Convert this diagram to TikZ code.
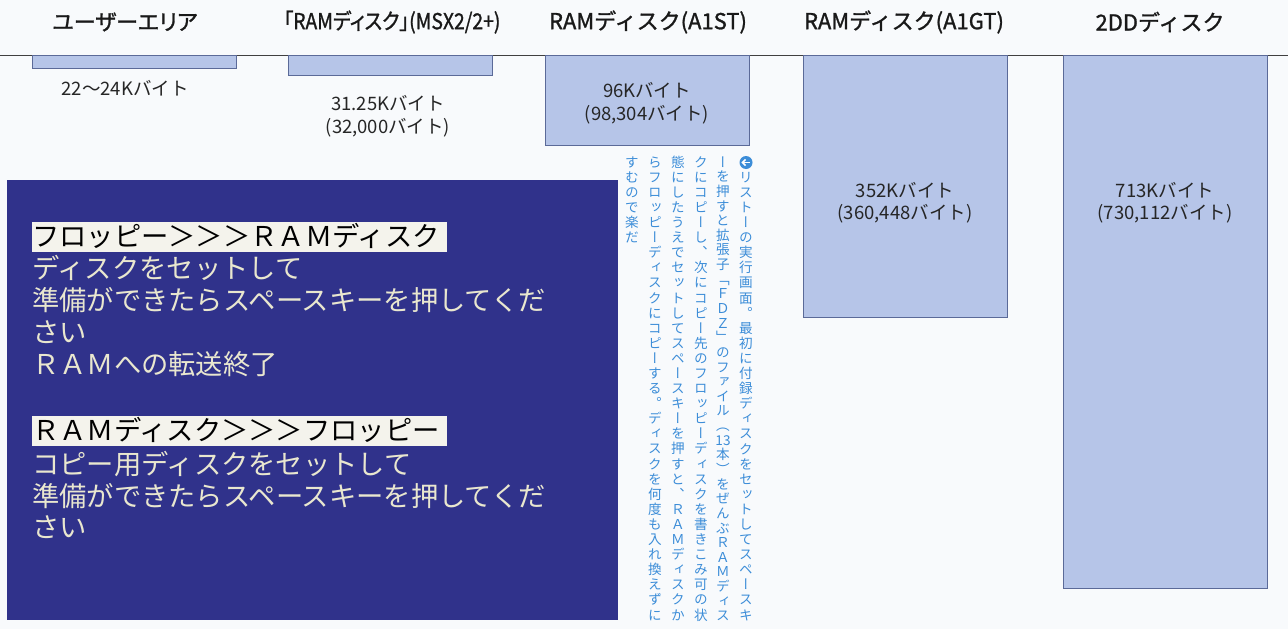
\documentclass[tikz,border=0pt]{standalone}
\usepackage{fontspec}
\usepackage{graphicx}
\newfontfamily\hdfont[FakeBold=1.2]{Noto Sans CJK JP}
\newfontfamily\hdpfont[FakeBold=1.2,RawFeature=+palt]{Noto Sans CJK JP}
\newfontfamily\scrfont{Noto Sans CJK JP}
\newfontfamily\tatefont[RawFeature=+vert]{Noto Sans CJK JP}
\usetikzlibrary{positioning}

\definecolor{paper}{HTML}{F8FAFC}
\definecolor{barfill}{HTML}{B6C5E8}
\definecolor{bardraw}{HTML}{5B6A98}
\definecolor{screenblue}{HTML}{30328B}
\definecolor{screentext}{HTML}{E9E7CF}
\definecolor{hlwhite}{HTML}{F4F3EC}
\definecolor{capblue}{HTML}{3C8DD8}

% vertical column, one glyph per cell
\def\tatestop{\tatestop}
\def\tatestopm{\tatestop}
\newcommand\tatecell[1]{\vbox to 1em{\hbox to 1em{\hss\vrule height .88em depth .12em width 0pt #1\hss}\vss}\kern\tategap}
\def\tatestep#1{%
  \def\tatearg{#1}%
  \ifx\tatearg\tatestopm
    \let\tatenext\relax
  \else
    \tatecell{#1}%
    \let\tatenext\tatestep
  \fi
  \tatenext}
\newcommand\tate[2][.11em]{\vbox{\offinterlineskip\def\tategap{#1}\tatestep#2\tatestop}}

\begin{document}
\begin{tikzpicture}[x=1pt, y=-1pt,
  header/.style={font=\hdfont\fontsize{22}{26}\selectfont, text=black!90, inner sep=0pt},
  pheader/.style={header, font=\hdpfont\fontsize{22}{26}\selectfont},
  bar/.style={draw=bardraw, fill=barfill, line width=1pt, inner sep=0pt, minimum width=204pt, anchor=north west},
  sizelbl/.style={font=\scrfont\fontsize{18.5}{22}\selectfont, text=black!85, inner sep=0pt},
  scrline/.style={font=\scrfont\fontsize{27.3}{32}\selectfont, text=screentext, anchor=west, inner sep=0pt, text height=24pt, text depth=3.3pt},
  hlline/.style={scrline, text=black, fill=hlwhite, text width=415pt, align=left, text height=24.5pt, text depth=5.5pt},
  caption/.style={font=\tatefont\fontsize{13.6}{15}\selectfont, text=capblue, inner sep=0pt, anchor=north}]

  \fill[paper] (0,0) rectangle (1288,629);
  \useasboundingbox (0,0) rectangle (1288,629);

  % rule under the headers
  \coordinate (ruleL) at (0,55);
  \coordinate (ruleR) at (1288,55);
  \draw[line width=1pt, black!75] (ruleL) -- (ruleR);

  % bars
  \node[bar, minimum height=13pt] (barUser) at (32,55) {};
  \node[bar, minimum height=20pt] (barMSX) at (288,55) {};
  \node[bar, minimum height=90pt] (barST) at (545,55) {};
  \node[bar, minimum height=262pt] (barGT) at (803,55) {};
  \node[bar, minimum height=533pt] (barDD) at (1063,55) {};

  % headers
  \node[pheader] (hUser) at (125,22) {ユーザーエリア};
  \node[pheader] (hMSX) at (392,22) {\scalebox{.88}[1]{「RAMディスク」(MSX2/2+)}};
  \node[header] (hST) at (648,22) {RAMディスク(A1ST)};
  \node[header] (hGT) at (904,22) {RAMディスク(A1GT)};
  \node[header] (hDD) at (1160,22) {2DDディスク};

  % sizes
  \node[sizelbl] (sUser) at (125,88) {22〜24Kバイト};
  \node[sizelbl] (sMSX) at (388,103) {31.25Kバイト};
  \node[sizelbl] (sMSXb) at (388,128) {(32,000バイト)};
  \node[sizelbl] (sST) at (647,90) {96Kバイト};
  \node[sizelbl] (sSTb) at (647,115) {(98,304バイト)};
  \node[sizelbl] (sGT) at (905,190) {352Kバイト};
  \node[sizelbl] (sGTb) at (905,214) {(360,448バイト)};
  \node[sizelbl] (sDD) at (1165,190) {713Kバイト};
  \node[sizelbl] (sDDb) at (1165,214) {(730,112バイト)};

  % screen shot
  \fill[screenblue] (7,180) rectangle (618,620);
  \node[hlline] (hl1) at (32,237) {フロッピー＞＞＞ＲＡＭディスク};
  \node[hlline] (hl2) at (32,431) {ＲＡＭディスク＞＞＞フロッピー};
  \foreach \y/\txt [count=\i] in {268/ディスクをセットして, 300/準備ができたらスペースキーを押してくだ,
      332/さい, 364/ＲＡＭへの転送終了, 464/コピー用ディスクをセットして,
      496/準備ができたらスペースキーを押してくだ, 527/さい}
    \node[scrline] (line\i) at (32,\y) {\txt};

  % caption
  \coordinate (icon) at (746,162.5);
  \fill[capblue] (icon) circle (6.5);
  \draw[white, line width=1.5pt] ([xshift=3.5]icon) -- ([xshift=-3]icon);
  \draw[white, line width=1.5pt] ([xshift=-0.5,yshift=-3]icon) -- ([xshift=-3.5]icon) -- ([xshift=-0.5,yshift=3]icon);
  \node[caption] (cap1) at (746,170.1) {\tate{リストーの実行画面。最初に付録ディスクをセットしてスペースキ}};
  \node[caption] (cap2) at (723,155) {\tate[.076em]{ーを押すと拡張子「ＦＤＺ」のファイル（{13}本）をぜんぶＲＡＭディス}};
  \node[caption] (cap3) at (701,155) {\tate{クにコピーし、次にコピー先のフロッピーディスクを書きこみ可の状}};
  \node[caption] (cap4) at (678,155) {\tate{態にしたうえでセットしてスペースキーを押すと、ＲＡＭディスクか}};
  \node[caption] (cap5) at (655,155) {\tate{らフロッピーディスクにコピーする。ディスクを何度も入れ換えずに}};
  \node[caption] (cap6) at (632,155) {\tate{すむので楽だ}};

\end{tikzpicture}
\end{document}
